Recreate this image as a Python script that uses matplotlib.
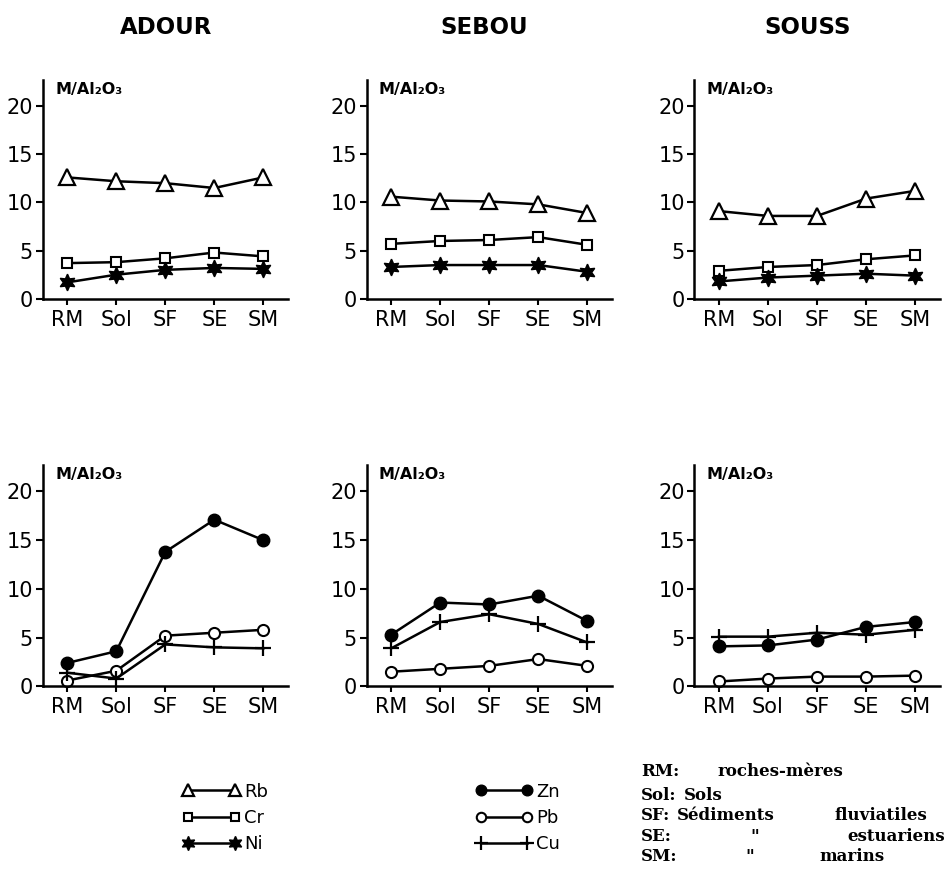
import matplotlib
matplotlib.use("Agg")
import matplotlib.pyplot as plt

plt.rcParams['font.family'] = ['DejaVu Sans']

stations = ['RM', 'Sol', 'SF', 'SE', 'SM']
rivers = ['ADOUR', 'SEBOU', 'SOUSS']

# top row: Rb, Cr, Ni
rb = {'ADOUR': [12.6, 12.2, 12.0, 11.5, 12.6],
      'SEBOU': [10.6, 10.2, 10.1, 9.8, 8.9],
      'SOUSS': [9.1, 8.6, 8.6, 10.4, 11.2]}
cr = {'ADOUR': [3.7, 3.8, 4.2, 4.8, 4.4],
      'SEBOU': [5.7, 6.0, 6.1, 6.4, 5.6],
      'SOUSS': [2.9, 3.3, 3.5, 4.1, 4.5]}
ni = {'ADOUR': [1.7, 2.5, 3.0, 3.2, 3.1],
      'SEBOU': [3.3, 3.5, 3.5, 3.5, 2.8],
      'SOUSS': [1.8, 2.2, 2.4, 2.6, 2.4]}

# bottom row: Zn, Pb, Cu
zn = {'ADOUR': [2.4, 3.6, 13.8, 17.1, 15.0],
      'SEBOU': [5.3, 8.6, 8.4, 9.3, 6.7],
      'SOUSS': [4.1, 4.2, 4.8, 6.1, 6.6]}
pb = {'ADOUR': [0.6, 1.6, 5.2, 5.5, 5.8],
      'SEBOU': [1.5, 1.8, 2.1, 2.8, 2.1],
      'SOUSS': [0.5, 0.8, 1.0, 1.0, 1.1]}
cu = {'ADOUR': [1.4, 0.8, 4.3, 4.0, 3.9],
      'SEBOU': [3.9, 6.6, 7.4, 6.4, 4.5],
      'SOUSS': [5.1, 5.1, 5.5, 5.3, 5.8]}

lefts = [0.045, 0.386, 0.731]
title_x = [0.175, 0.51, 0.85]

fig = plt.figure(figsize=(9.5, 8.71), dpi=100)

def setup(ax):
    ax.set_xlim(-0.5, 4.5)
    ax.set_ylim(0, 22.7)
    ax.spines['top'].set_visible(False)
    ax.spines['right'].set_visible(False)
    ax.spines['left'].set_linewidth(1.8)
    ax.spines['bottom'].set_linewidth(1.8)
    ax.set_xticks(range(5))
    ax.set_xticklabels(stations)
    ax.set_yticks([0, 5, 10, 15, 20])
    ax.tick_params(axis='y', labelsize=15, length=5, width=1.5, pad=2)
    ax.tick_params(axis='x', labelsize=15, length=4, width=1.5, pad=4)
    ax.text(0.05, 0.99, 'M/Al₂O₃', transform=ax.transAxes, fontsize=11.5,
            fontweight='bold', va='top', ha='left')

kw = dict(color='black', lw=1.8, clip_on=False)
top_lines = []
bot_lines = []
for i, r in enumerate(rivers):
    ax = fig.add_axes([lefts[i], 0.657, 0.258, 0.251])
    setup(ax)
    l1, = ax.plot(range(5), rb[r], marker='^', ms=11, mfc='white', mec='black', mew=1.6, **kw)
    l2, = ax.plot(range(5), cr[r], marker='s', ms=6.5, mfc='white', mec='black', mew=1.5, **kw)
    l3, = ax.plot(range(5), ni[r], marker=(6, 1, 0), ms=12, mfc='black', mec='black', **kw)
    top_lines = [l1, l2, l3]
    fig.text(title_x[i], 0.968, r, fontsize=16.5, fontweight='bold', ha='center', va='center')

    ax = fig.add_axes([lefts[i], 0.212, 0.258, 0.254])
    setup(ax)
    l4, = ax.plot(range(5), zn[r], marker='o', ms=9, mfc='black', mec='black', **kw)
    l5, = ax.plot(range(5), pb[r], marker='o', ms=8, mfc='white', mec='black', mew=1.5, **kw)
    l6, = ax.plot(range(5), cu[r], marker='+', ms=12, mew=1.6, **kw)
    bot_lines = [l4, l5, l6]

leg_kw = dict(loc='upper left', frameon=False, numpoints=2, handlelength=3.2,
              handletextpad=0.2, labelspacing=0.45, fontsize=13, markerscale=0.85)
fig.legend(top_lines, ['Rb', 'Cr', 'Ni'], bbox_to_anchor=(0.175, 0.12), **leg_kw)
fig.legend(bot_lines, ['Zn', 'Pb', 'Cu'], bbox_to_anchor=(0.483, 0.12), **leg_kw)

serif = dict(family='DejaVu Serif', fontweight='bold', fontsize=12, va='center')
key_codes = ['RM:', 'Sol:', 'SF:', 'SE:', 'SM:']
key_y = [0.114, 0.087, 0.064, 0.040, 0.017]
for code, y in zip(key_codes, key_y):
    fig.text(0.675, y, code, **serif)
fig.text(0.755, key_y[0], 'roches-mères', **serif)
fig.text(0.72, key_y[1], 'Sols', **serif)
fig.text(0.712, key_y[2], 'Sédiments', **serif)
fig.text(0.878, key_y[2], 'fluviatiles', **serif)
fig.text(0.79, key_y[3], '"', **serif)
fig.text(0.892, key_y[3], 'estuariens', **serif)
fig.text(0.785, key_y[4], '"', **serif)
fig.text(0.862, key_y[4], 'marins', **serif)

fig.savefig('out.png', dpi=100)
